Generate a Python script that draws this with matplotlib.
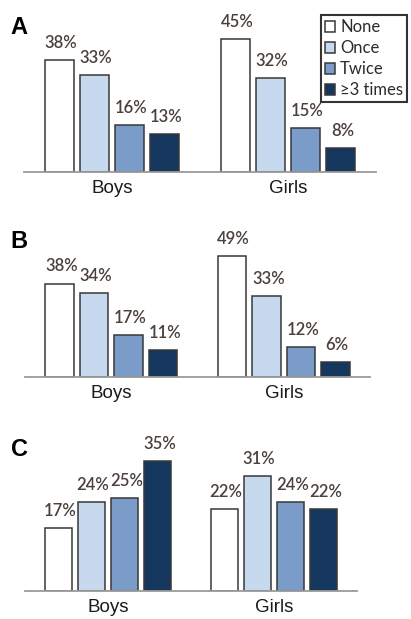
import matplotlib
matplotlib.use('Agg')
import matplotlib.pyplot as plt
import numpy as np

categories = ['None', 'Once', 'Twice', '≥3 times']
groups = ['Boys', 'Girls']
colors = ['#ffffff', '#c6d9ef', '#7b9bc8', '#15365d']

panel_a = {'Boys': [38, 33, 16, 13], 'Girls': [45, 32, 15, 8]}
panel_b = {'Boys': [38, 34, 17, 11], 'Girls': [49, 33, 12, 6]}
panel_c = {'Boys': [17, 24, 25, 35], 'Girls': [22, 31, 24, 22]}

W, H = 411, 619
fig = plt.figure(figsize=(W / 100, H / 100), dpi=100)


def add_axes_px(left, right, base, top):
    return fig.add_axes([left / W, 1 - base / H, (right - left) / W, (base - top) / H])


def draw_panel(ax, data, ymax, letter, letter_y):
    for g, name in enumerate(groups):
        x = g * 5 + np.arange(4)
        for i in range(4):
            ax.bar(x[i], data[name][i], width=0.82, color=colors[i],
                   edgecolor='#383838', linewidth=1.1,
                   label=categories[i] if g == 0 else None)
            ax.annotate(f'{data[name][i]}%', (x[i] + 0.05, data[name][i]),
                        xytext=(0, 6.5), textcoords='offset points',
                        ha='center', va='bottom', fontsize=12, family='Lato',
                        fontweight='semibold', color='#4b403c')
    ax.set_xlim(-1, 9)
    ax.set_ylim(0, ymax)
    for s in ['top', 'left', 'right']:
        ax.spines[s].set_visible(False)
    ax.spines['bottom'].set_color('#9a9a9a')
    ax.spines['bottom'].set_linewidth(1.3)
    ax.set_yticks([])
    ax.set_xticks([1.5, 6.5])
    ax.set_xticklabels(groups, fontsize=13.5, family='Liberation Sans', color='#1a1a1a')
    ax.tick_params(axis='x', length=0, pad=6)
    ax.patch.set_visible(False)
    fig.text(19 / W, 1 - letter_y / H, letter, fontsize=17, fontweight='bold',
             family='Liberation Sans', ha='center', va='center')
    return ax


ax_a = draw_panel(add_axes_px(24, 376, 172, 24.5), panel_a, 50, 'A', 28)
ax_b = draw_panel(add_axes_px(25, 370, 377, 254), panel_b, 50, 'B', 242)
ax_c = draw_panel(add_axes_px(25, 357, 591, 442.6), panel_c, 40, 'C', 450)

leg = ax_a.legend(loc='upper left', bbox_to_anchor=(321 / W, 1 - 15 / H),
                  bbox_transform=fig.transFigure, frameon=True, fancybox=False,
                  handlelength=0.6, handleheight=0.6, handletextpad=0.3,
                  labelspacing=0.3, borderpad=0.25, borderaxespad=0,
                  prop={'family': 'Lato', 'size': 12})
leg.get_frame().set_edgecolor('black')
leg.get_frame().set_linewidth(1.5)
for t in leg.get_texts():
    t.set_color('#2e2a2a')

fig.savefig('out.png', dpi=100)
